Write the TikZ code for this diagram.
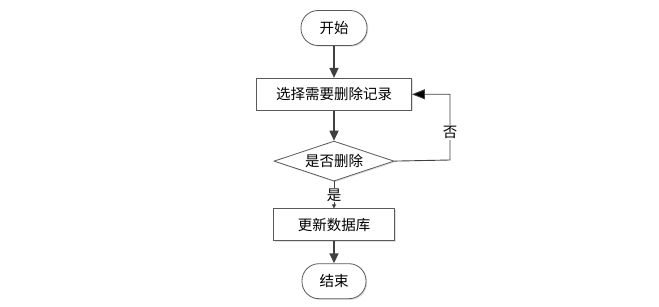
\documentclass[tikz,border=0pt]{standalone}
\usepackage{fontspec}
\setmainfont{Noto Sans CJK SC}
\usepackage{tikz}
\usetikzlibrary{positioning,arrows.meta,shapes.geometric,shadows}
\definecolor{edge}{HTML}{404040}
\definecolor{frame}{HTML}{5A5A5A}
\tikzset{
  termbox/.style={
    draw=frame, line width=0.8pt, fill=white, rounded corners=17pt,
    minimum width=66pt, minimum height=35pt, inner sep=2pt,
    font=\fontsize{14.5}{16}\selectfont,
    drop shadow={shadow xshift=1.2pt, shadow yshift=-1.2pt, fill=black!25}},
  procbox/.style={
    draw=frame, line width=0.8pt, fill=white,
    minimum height=32pt, inner sep=2pt, font=\fontsize{14.5}{16}\selectfont,
    drop shadow={shadow xshift=1.2pt, shadow yshift=-1.2pt, fill=black!25}},
  testbox/.style={
    draw=frame, line width=0.8pt, fill=white, diamond, aspect=3,
    minimum width=120pt, minimum height=40pt, inner sep=0pt,
    font=\fontsize{14.5}{16}\selectfont,
    drop shadow={shadow xshift=1.2pt, shadow yshift=-1.2pt, fill=black!25}},
  flow/.style={draw=edge, line width=1.6pt, -{Triangle[length=10pt,width=9pt]}},
  thinflow/.style={draw=edge, line width=0.9pt},
  branch/.style={fill=white, inner sep=1pt, font=\fontsize{14.5}{16}\selectfont},
}
\begin{document}
\begin{tikzpicture}[x=1pt,y=-1pt]
  \useasboundingbox (0,0) rectangle (659,307);

  \node[termbox] (start) at (334,28) {开始};
  \node[procbox, minimum width=155pt, below=32pt of start] (pick) {选择需要删除记录};
  \node[testbox, below=30pt of pick] (ask) {是否删除};
  \node[procbox, minimum width=121pt, below=27pt of ask] (update) {更新数据库};
  \node[termbox, minimum width=64pt, below=22pt of update] (stop) {结束};

  \coordinate (turn) at (450,160);

  \draw[thinflow, -{Triangle[length=4pt,width=4pt]}] (ask) -- node[branch, pos=0.5] {是} (update);
  \draw[flow] (start) -- (pick);
  \draw[flow] (pick) -- (ask);
  \draw[flow] (update) -- (stop);
  \draw[thinflow, -{Triangle[length=13pt,width=10pt,fill=black]}] (ask.east) -- (turn) |- node[branch, pos=0.21] {否} (pick.east);

\end{tikzpicture}
\end{document}
